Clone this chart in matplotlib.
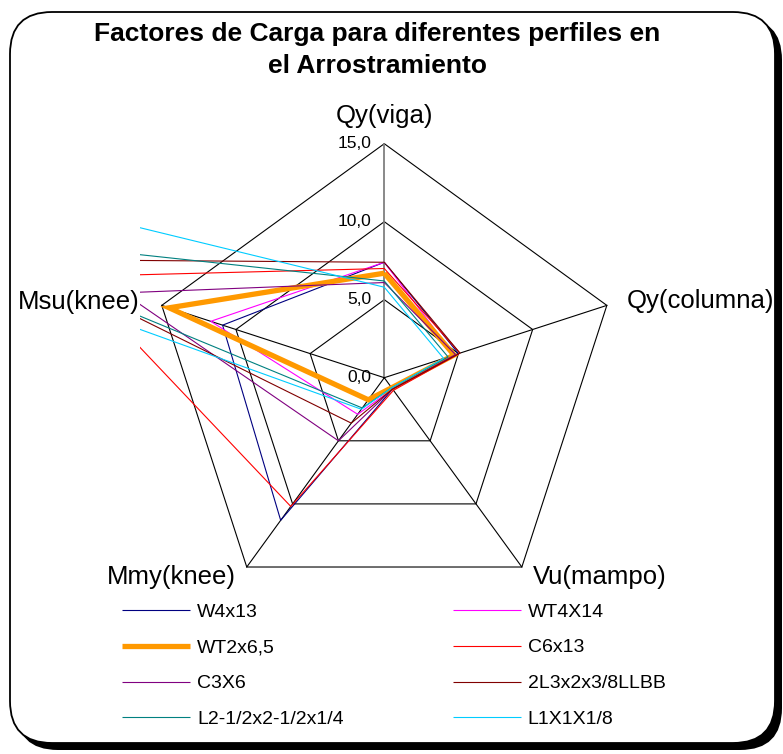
import numpy as np
import matplotlib
matplotlib.use("Agg")
import matplotlib.pyplot as plt
from matplotlib.patches import FancyBboxPatch

plt.rcParams['font.family'] = ['Liberation Sans', 'DejaVu Sans']

# ---------------- data ----------------
categories = ["Qy(viga)", "Qy(columna)", "Vu(mampo)", "Mmy(knee)", "Msu(knee)"]
series_names = ["W4x13", "WT4X14", "WT2x6,5", "C6x13", "C3X6",
                "2L3x2x3/8LLBB", "L2-1/2x2-1/2x1/4", "L1X1X1/8"]
w4x13 = [7.4, 5.0, 0.9, 11.3, 10.9]
wt4x14 = [7.4, 4.7, 0.9, 2.9, 11.7]
wt2x65 = [6.7, 4.7, 0.8, 1.75, 14.5]
c6x13 = [7.0, 5.1, 1.0, 10.2, 21.0]
c3x6 = [6.1, 4.8, 0.9, 5.0, 17.6]
l2l3x2 = [7.4, 5.1, 0.9, 3.6, 24.5]
l212 = [6.2, 4.3, 0.8, 2.4, 30.0]
l1x1 = [5.8, 4.0, 0.8, 2.5, 75.0]
series_values = [w4x13, wt4x14, wt2x65, c6x13, c3x6, l2l3x2, l212, l1x1]
ticks = [0, 5, 10, 15]
tick_labels = ["0,0", "5,0", "10,0", "15,0"]

colors = ["#000080", "#FF00FF", "#FF9900", "#FF0000", "#800080",
          "#800000", "#008080", "#00CCFF"]
widths = [0.8, 0.8, 3.8, 0.8, 0.8, 0.8, 0.8, 0.8]

# ---------------- layout ----------------
W, H = 783, 754
fig = plt.figure(figsize=(W / 100, H / 100), dpi=100)

bg = fig.add_axes([0, 0, 1, 1], zorder=0)
bg.set_xlim(0, W)
bg.set_ylim(H, 0)
bg.axis('off')
bg.add_patch(FancyBboxPatch((16, 18), 766, 732,
                            boxstyle="round,pad=0,rounding_size=42",
                            fc='black', ec='none'))
bg.add_patch(FancyBboxPatch((10, 12), 765, 731,
                            boxstyle="round,pad=0,rounding_size=42",
                            fc='white', ec='black', lw=1.3))

fig.text(377 / W, 1 - 50 / H,
         "Factores de Carga para diferentes perfiles en\nel Arrostramiento",
         ha='center', va='center', fontsize=19, fontweight='bold',
         linespacing=1.45)

cx, cy, scale = 384.3, 377.7, 15.6
L, R, T, B = 140, 775, 95, 595
ax = fig.add_axes([L / W, 1 - B / H, (R - L) / W, (B - T) / H], zorder=1)
ax.set_xlim((L - cx) / scale, (R - cx) / scale)
ax.set_ylim((cy - B) / scale, (cy - T) / scale)
ax.axis('off')

n = len(categories)
ang = np.deg2rad(90 - 72 * np.arange(n))
ca, sa = np.cos(ang), np.sin(ang)
rmax = ticks[-1]

# grid rings
for t in ticks[1:]:
    ax.plot(np.append(t * ca, t * ca[0]), np.append(t * sa, t * sa[0]),
            color='black', lw=0.8, zorder=1)
# spokes
for i in range(n):
    ax.plot([0, rmax * ca[i]], [0, rmax * sa[i]],
            color='#808080' if i == 0 else 'black',
            lw=1.3 if i == 0 else 0.8, zorder=1)

# tick labels
for t, lab in zip(ticks, tick_labels):
    ax.text(-0.8, t, lab, ha='right', va='center', fontsize=12.5)

# category labels
lab_pos = [(0, rmax + 1.75, 'center'),
           (rmax * ca[1] + 1.25, rmax * sa[1] + 0.25, 'left'),
           (rmax * ca[2] + 0.7, rmax * sa[2] - 0.65, 'left'),
           (rmax * ca[3] - 0.7, rmax * sa[3] - 0.65, 'right'),
           (rmax * ca[4] - 1.4, rmax * sa[4] + 0.2, 'right')]
for (x, y, ha), lab in zip(lab_pos, categories):
    ax.text(x, y, lab, ha=ha, va='center', fontsize=18.5, clip_on=False)

# series
handles = []
for vals, c, lw, name in zip(series_values, colors, widths, series_names):
    v = np.array(vals, dtype=float)
    xs = np.append(v * ca, v[0] * ca[0])
    ys = np.append(v * sa, v[0] * sa[0])
    h, = ax.plot(xs, ys, color=c, lw=lw, solid_joinstyle='miter',
                 solid_capstyle='butt', zorder=3, label=name)
    handles.append(h)

order = [0, 2, 4, 6, 1, 3, 5, 7]
fig.legend([handles[i] for i in order], [series_names[i] for i in order],
           loc='upper left', bbox_to_anchor=(122 / W, 1 - 603 / H),
           ncol=2, frameon=False, fontsize=14, handlelength=3.5,
           handletextpad=0.36, columnspacing=5.6, labelspacing=0.94,
           borderpad=0, borderaxespad=0)

fig.savefig("out.png", dpi=100)
